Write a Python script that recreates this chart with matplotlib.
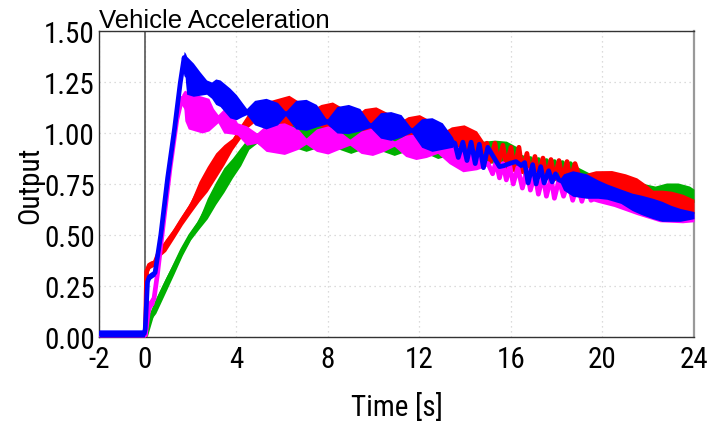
import matplotlib
matplotlib.use("Agg")
import matplotlib.pyplot as plt
from matplotlib import font_manager
import numpy as np

# ---- series data: time [s], lower and upper envelope of the response ----
green_t = [-2.0, 0.05, 0.3, 0.48, 0.91, 1.28, 1.64, 2.0, 2.37, 2.73, 3.1, 3.46, 3.83, 4.19, 4.55,
           4.9, 5.3, 5.9, 6.5, 7.05, 7.6, 8.1, 8.5, 9.0, 9.5, 10.0, 10.4, 10.9, 11.4, 11.9, 12.3,
           12.8, 13.3, 13.8, 14.3, 14.8, 15.3, 15.8, 16.3,
           16.5, 16.65, 16.85, 17.0, 17.2, 17.35, 17.55, 17.7, 17.9, 18.05, 18.25, 18.4, 18.6,
           18.8, 19.5, 20.5, 21.5, 22.3, 22.8, 23.3, 23.8, 24.0]
green_lo = [0.0, 0.0, 0.09, 0.116, 0.22, 0.31, 0.40, 0.476, 0.53, 0.58, 0.65, 0.71, 0.78, 0.84, 0.92,
            0.95, 0.92, 0.91, 0.93, 0.91, 0.93, 0.95, 0.92, 0.90, 0.92, 0.94, 0.91, 0.89, 0.91, 0.93, 0.90,
            0.875, 0.89, 0.88, 0.87, 0.86, 0.85, 0.85, 0.84,
            0.88, 0.79, 0.875, 0.785, 0.87, 0.78, 0.865, 0.775, 0.86, 0.77, 0.855, 0.77, 0.85,
            0.76, 0.74, 0.72, 0.70, 0.69, 0.68, 0.67, 0.66, 0.66]
green_hi = [0.02, 0.02, 0.12, 0.19, 0.29, 0.37, 0.45, 0.517, 0.58, 0.68, 0.76, 0.83, 0.877, 0.93, 0.98,
            1.0, 1.02, 1.04, 1.06, 1.08, 1.06, 1.02, 1.05, 1.07, 1.04, 1.01, 1.04, 1.06, 1.03, 1.00, 1.02,
            1.03, 0.99, 0.96, 0.95, 0.96, 0.965, 0.96, 0.93,
            0.88, 0.79, 0.875, 0.785, 0.87, 0.78, 0.865, 0.775, 0.86, 0.77, 0.855, 0.77, 0.85,
            0.84, 0.80, 0.78, 0.76, 0.74, 0.755, 0.755, 0.74, 0.725]

red_t = [-2.0, 0.03, 0.08, 0.2, 0.45, 0.6, 0.91, 1.28, 1.64, 2.0, 2.37, 2.73, 3.1, 3.46, 3.83, 4.19,
         4.48, 4.75, 5.1, 5.5, 6.3, 6.8, 7.2, 7.7, 8.2, 8.7, 9.15, 9.6, 10.1, 10.6, 11.05, 11.5, 12.0,
         12.5, 12.95, 13.4, 13.95, 14.5, 14.8,
         14.95, 15.1, 15.3, 15.45, 15.65, 15.8, 16.0, 16.15, 16.35, 16.5, 16.7, 16.85, 17.05, 17.2,
         17.4, 17.55, 17.75, 17.9, 18.1, 18.25, 18.45, 18.6, 18.8,
         19.0, 19.2, 19.7, 20.4, 21.0, 21.5, 22.0, 22.2, 22.6, 23.0, 23.5, 24.0]
red_lo = [0.0, 0.0, 0.30, 0.335, 0.35, 0.39, 0.42, 0.485, 0.55, 0.607, 0.664, 0.713, 0.779, 0.844, 0.918, 0.975,
          1.025, 1.05, 1.07, 1.05, 1.03, 1.05, 1.07, 1.03, 1.014, 1.03, 1.04, 1.00, 0.985, 1.00, 1.01, 0.96, 0.95,
          0.96, 0.96, 0.90, 0.87, 0.88, 0.90,
          0.95, 0.86, 0.95, 0.845, 0.94, 0.835, 0.93, 0.82, 0.93, 0.81, 0.90, 0.795, 0.885, 0.785,
          0.877, 0.78, 0.87, 0.775, 0.865, 0.77, 0.86, 0.77, 0.85,
          0.76, 0.72, 0.69, 0.67, 0.66, 0.64, 0.63, 0.64, 0.62, 0.61, 0.605, 0.605]
red_hi = [0.02, 0.02, 0.34, 0.37, 0.38, 0.43, 0.48, 0.535, 0.60, 0.664, 0.763, 0.836, 0.902, 0.943, 0.975, 1.04,
          1.09, 1.12, 1.13, 1.16, 1.185, 1.15, 1.11, 1.14, 1.152, 1.12, 1.08, 1.12, 1.128, 1.10, 1.05, 1.08, 1.09,
          1.06, 1.00, 1.03, 1.04, 1.01, 0.96,
          0.95, 0.86, 0.95, 0.845, 0.94, 0.835, 0.93, 0.82, 0.93, 0.81, 0.90, 0.795, 0.885, 0.785,
          0.877, 0.78, 0.87, 0.775, 0.865, 0.77, 0.86, 0.77, 0.85,
          0.80, 0.80, 0.815, 0.816, 0.80, 0.78, 0.74, 0.72, 0.72, 0.715, 0.70, 0.675]

magenta_t = [-2.0, 0.03, 0.15, 0.25, 0.4, 0.55, 0.8, 1.1, 1.4, 1.62, 1.7, 1.75, 1.9, 2.2, 2.5, 2.8,
             3.0, 3.2, 3.45, 3.8, 4.05, 4.45, 4.9, 5.3, 6.1, 6.7, 7.05, 7.5, 8.0, 8.5, 8.96, 9.45,
             9.95, 10.45, 10.9, 11.4, 11.85, 12.3, 12.8, 13.3, 13.9, 14.5, 15.0,
             15.2, 15.35, 15.5, 15.65, 15.8, 15.95, 16.1, 16.3, 16.5, 16.7, 16.85, 17.05, 17.2, 17.4,
             17.55, 17.75, 17.9, 18.1, 18.3, 18.5, 18.7, 18.9, 19.1, 19.3, 19.5,
             19.8, 20.5, 21.5, 22.5, 23.5, 24.0]
magenta_lo = [0.0, 0.0, 0.10, 0.14, 0.16, 0.28, 0.52, 0.80, 1.04, 1.15, 1.13, 1.06, 1.02, 1.01, 1.00, 1.01,
              1.03, 1.05, 1.00, 0.995, 0.99, 0.94, 0.95, 0.91, 0.895, 0.92, 0.945, 0.91, 0.897, 0.92, 0.94, 0.90,
              0.89, 0.91, 0.935, 0.885, 0.87, 0.88, 0.90, 0.85, 0.81, 0.82, 0.84,
              0.80, 0.86, 0.78, 0.85, 0.77, 0.84, 0.75, 0.83, 0.73, 0.82, 0.72, 0.80, 0.70, 0.79,
              0.69, 0.78, 0.68, 0.77, 0.69, 0.76, 0.67, 0.75, 0.665, 0.74, 0.67,
              0.66, 0.64, 0.60, 0.565, 0.56, 0.565]
magenta_hi = [0.02, 0.02, 0.14, 0.19, 0.21, 0.33, 0.57, 0.85, 1.09, 1.19, 1.205, 1.21, 1.20, 1.19, 1.18, 1.17,
              1.12, 1.09, 1.118, 1.10, 1.05, 1.035, 1.00, 1.04, 1.05, 1.02, 0.975, 1.02, 1.035, 1.01, 0.97, 1.01,
              1.025, 1.00, 0.96, 0.99, 0.995, 0.98, 0.93, 0.94, 0.93, 0.90, 0.86,
              0.80, 0.86, 0.78, 0.85, 0.77, 0.84, 0.75, 0.83, 0.73, 0.82, 0.72, 0.80, 0.70, 0.79,
              0.69, 0.78, 0.68, 0.77, 0.69, 0.76, 0.67, 0.75, 0.665, 0.74, 0.67,
              0.72, 0.70, 0.67, 0.64, 0.62, 0.60]

blue_t = [-2.0, -0.02, 0.02, 0.12, 0.2, 0.45, 0.7, 1.0, 1.3, 1.55, 1.72, 1.78, 1.83, 2.12, 2.41, 2.7,
          2.92, 3.1, 3.29, 3.72, 4.0, 4.25, 4.45, 4.8, 5.3, 5.8, 6.15, 6.6, 7.05, 7.5, 7.95, 8.4,
          8.9, 9.4, 9.85, 10.3, 10.75, 11.2, 11.65, 12.1, 12.55, 13.0, 13.45,
          13.55, 13.7, 13.9, 14.08, 14.26, 14.44, 14.62, 14.8, 14.99, 15.2, 15.5, 15.7, 15.93, 16.22,
          16.45, 16.6, 16.75, 16.95, 17.1, 17.3, 17.45, 17.65, 17.8, 17.95, 18.1,
          18.3, 18.7, 19.3, 19.8, 20.2, 20.8, 21.3, 21.7, 22.2, 22.6, 23.0, 23.4, 24.0]
blue_lo = [0.0, 0.0, 0.02, 0.25, 0.28, 0.30, 0.48, 0.76, 1.00, 1.22, 1.34, 1.25, 1.19, 1.18, 1.185, 1.19,
           1.17, 1.14, 1.13, 1.074, 1.065, 1.08, 1.09, 1.04, 1.02, 1.04, 1.085, 1.02, 1.013, 1.03, 1.045, 1.00,
           0.997, 1.01, 1.027, 0.975, 0.964, 0.98, 1.003, 0.93, 0.91, 0.92, 0.93,
           0.95, 0.88, 0.955, 0.865, 0.955, 0.85, 0.945, 0.83, 0.93, 0.89, 0.835, 0.84, 0.85, 0.86,
           0.84, 0.855, 0.755, 0.845, 0.75, 0.835, 0.755, 0.815, 0.76, 0.80, 0.77,
           0.72, 0.69, 0.68, 0.68, 0.675, 0.655, 0.62, 0.60, 0.58, 0.567, 0.567, 0.567, 0.58]
blue_hi = [0.035, 0.035, 0.06, 0.29, 0.31, 0.33, 0.52, 0.80, 1.04, 1.27, 1.40, 1.39, 1.376, 1.343, 1.30, 1.26,
           1.25, 1.265, 1.26, 1.22, 1.188, 1.15, 1.12, 1.16, 1.17, 1.15, 1.105, 1.16, 1.165, 1.14, 1.065, 1.13,
           1.14, 1.12, 1.047, 1.10, 1.105, 1.09, 1.023, 1.07, 1.075, 1.05, 0.98,
           0.95, 0.88, 0.955, 0.865, 0.955, 0.85, 0.945, 0.83, 0.93, 0.89, 0.835, 0.84, 0.85, 0.86,
           0.84, 0.855, 0.755, 0.845, 0.75, 0.835, 0.755, 0.815, 0.76, 0.80, 0.77,
           0.80, 0.815, 0.80, 0.77, 0.75, 0.725, 0.705, 0.695, 0.68, 0.665, 0.645, 0.63, 0.615]

series = [
    ("#00b000", green_t, green_lo, green_hi),
    ("#ff0000", red_t, red_lo, red_hi),
    ("#ff00ff", magenta_t, magenta_lo, magenta_hi),
    ("#0000ff", blue_t, blue_lo, blue_hi),
]

x_ticks = [-2, 0, 4, 8, 12, 16, 20, 24]
y_ticks = [0.0, 0.25, 0.5, 0.75, 1.0, 1.25, 1.5]


def narrow_font():
    """Pick a narrow sans face for the axis texts, if one is installed."""
    entries = [f for f in font_manager.fontManager.ttflist
               if f.style == "normal" and str(f.weight) in ("400", "normal", "regular", "book")]
    for f in entries:
        if f.name == "Liberation Sans Narrow":
            return font_manager.FontProperties(fname=f.fname), 20
    for fam in ["Roboto Condensed", "Liberation Sans", "Roboto", "Noto Sans", "Open Sans"]:
        for f in entries:
            if f.name == fam and f.stretch in ("condensed", "semi-condensed") or \
                    (fam == "Roboto Condensed" and f.name == fam):
                return font_manager.FontProperties(fname=f.fname), 21
    return font_manager.FontProperties(family="Liberation Sans"), 18


tick_fp, tick_size = narrow_font()
text_font = ["Liberation Sans", "DejaVu Sans"]

fig = plt.figure(figsize=(7.12, 4.27), dpi=100)
ax = fig.add_axes([99 / 712, 1 - 338 / 427, (694 - 99) / 712, (338 - 32) / 427])

for i, (color, t, lo, hi) in enumerate(series):
    t = np.asarray(t)
    lo = np.asarray(lo)
    hi = np.asarray(hi)
    z = 3 + i
    ax.fill_between(t, lo, hi, color=color, lw=0, zorder=z)
    ax.plot(t, (lo + hi) / 2, color=color, lw=3.4, solid_joinstyle="round", zorder=z)

ax.axvline(0, color="#555555", lw=1.2, zorder=2)

ax.set_xlim(-2, 24)
ax.set_ylim(0, 1.5)
ax.set_xticks(x_ticks)
ax.set_yticks(y_ticks)
ax.set_xticklabels([str(v) for v in x_ticks])
ax.set_yticklabels([f"{v:.2f}" for v in y_ticks])
ax.tick_params(axis="x", length=0, pad=6)
ax.tick_params(axis="y", length=0, pad=3)
for lab in ax.get_xticklabels() + ax.get_yticklabels():
    lab.set_fontproperties(tick_fp)
    lab.set_fontsize(tick_size)

ax.grid(True, color="#d0d0d0", lw=0.9, linestyle=(0, (1, 3)), zorder=0)
ax.set_axisbelow(True)

for side in ["left", "bottom", "top"]:
    ax.spines[side].set_color("#333333")
    ax.spines[side].set_linewidth(1.0)
ax.spines["right"].set_color("#999999")
ax.spines["right"].set_linewidth(1.6)

ax.set_xlabel("Time [s]", va="center")
ax.xaxis.label.set_fontproperties(tick_fp)
ax.xaxis.label.set_fontsize(tick_size)
ax.xaxis.set_label_coords(0.5, (338 - 408) / 306)
ax.set_ylabel("Output", va="center")
ax.yaxis.label.set_fontproperties(tick_fp)
ax.yaxis.label.set_fontsize(tick_size)
ax.yaxis.set_label_coords((30 - 99) / 595, 0.5)

ax.text(0.0, 1.013, "Vehicle Acceleration", transform=ax.transAxes, ha="left", va="baseline",
        fontsize=18.5, family=text_font)

fig.savefig("out.png", dpi=100)
